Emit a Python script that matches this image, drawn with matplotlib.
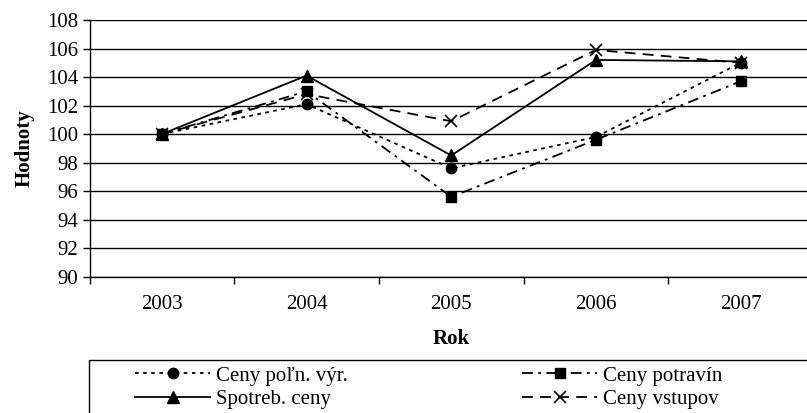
import numpy as np
import matplotlib
matplotlib.use("Agg")
import matplotlib.pyplot as plt
from matplotlib.patches import Rectangle

# údaje
roky = ["2003", "2004", "2005", "2006", "2007"]
ceny_poln = [100.0, 102.1, 97.6, 99.8, 105.0]
ceny_potravin = [100.0, 103.0, 95.6, 99.6, 103.7]
spotreb_ceny = [100.0, 104.1, 98.5, 105.2, 105.1]
ceny_vstupov = [100.0, 102.8, 100.9, 105.9, 105.0]
y_ticks = [90, 92, 94, 96, 98, 100, 102, 104, 106, 108]

plt.rcParams['font.family'] = ['Liberation Serif', 'DejaVu Serif']
fs = 15

W, H = 807, 413
fig = plt.figure(figsize=(W / 100, H / 100), dpi=100)
# os siaha mimo pravý okraj obrázka ako v origináli
ax = fig.add_axes([89.5 / W, 1 - 276.7 / H, (813 - 89.5) / W, (276.7 - 20) / H])

x = np.arange(len(roky))
l1, = ax.plot(x, ceny_poln, color="black", linestyle=(0, (2, 2.5)), linewidth=1.3,
              marker="o", markersize=7.5)
l3, = ax.plot(x, spotreb_ceny, color="black", linestyle="-", linewidth=1.3,
              marker="^", markersize=8)
l4, = ax.plot(x, ceny_vstupov, color="black", linestyle=(0, (6, 4)), linewidth=1.3,
              marker="x", markersize=8.5, markeredgewidth=1.2)
l2, = ax.plot(x, ceny_potravin, color="black", linestyle=(0, (6, 3, 1.5, 3)), linewidth=1.3,
              marker="s", markersize=7.5)

ax.set_xlim(-0.5, len(roky) - 0.5)
ax.set_ylim(90, 108)
ax.set_yticks(y_ticks)
ax.set_yticklabels([str(v) for v in y_ticks], fontsize=fs)
ax.yaxis.grid(True, color="black", linewidth=1)
ax.set_axisbelow(True)

ax.set_xticks(x)
ax.set_xticklabels(roky, fontsize=fs)
ax.set_xticks(np.arange(len(roky) + 1) - 0.5, minor=True)
ax.tick_params(axis="x", which="major", length=0, pad=13)
ax.tick_params(axis="x", which="minor", length=5, direction="out", width=1)
ax.tick_params(axis="y", length=5, direction="out", width=1, pad=3)

for s in ["top", "right"]:
    ax.spines[s].set_visible(False)
ax.spines["left"].set_linewidth(1)
ax.spines["bottom"].set_linewidth(1)

ax.set_xlabel("Rok", fontsize=fs, fontweight="bold", labelpad=11)
ax.set_ylabel("Hodnoty", fontsize=fs, fontweight="bold", labelpad=9)

# rámček legendy
fig.patches.append(Rectangle((89 / W, -0.2), 1.0, 1.2 - 359.5 / H, transform=fig.transFigure,
                             facecolor="none", edgecolor="black", linewidth=1))
leg_kw = dict(loc="upper left", frameon=False, fontsize=fs, handlelength=3.6,
              handletextpad=0.3, labelspacing=0.2, borderpad=0, borderaxespad=0)
fig.legend([l1, l3], ["Ceny poľn. výr.", "Spotreb. ceny"],
           bbox_to_anchor=(135 / W, 1 - 366 / H), **leg_kw)
fig.legend([l2, l4], ["Ceny potravín", "Ceny vstupov"],
           bbox_to_anchor=(522 / W, 1 - 366 / H), **leg_kw)

fig.savefig("out.png", dpi=100)
